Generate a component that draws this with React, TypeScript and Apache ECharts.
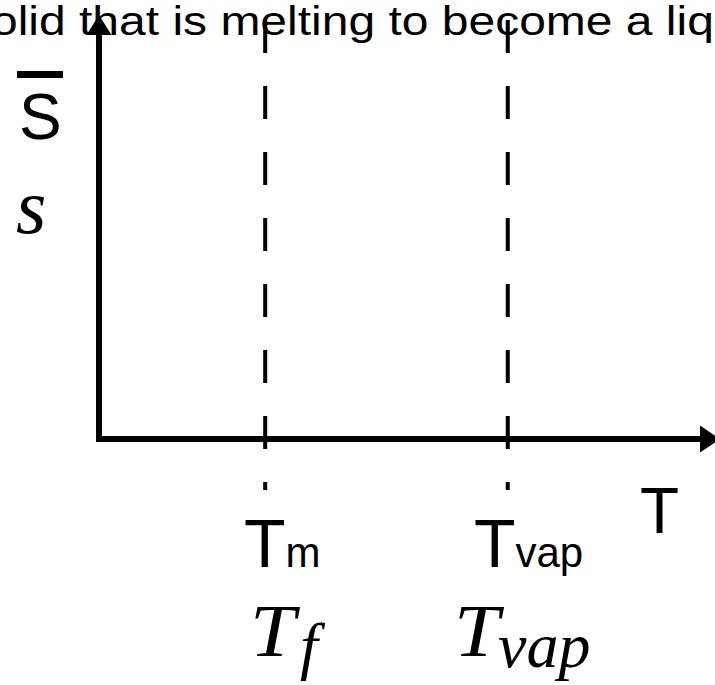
import React, { useEffect, useRef } from "react";
import * as echarts from "echarts";

// Phase-transition temperatures (arbitrary units along the T axis)
const transitionNames = ["Tm", "Tvap"];
const transitionTemps = [27.2, 66.9];
// vertical extent of the dashed guide lines (in S-axis units)
const guideTop = 101.2;
const guideBottom = -12.3;
const xRange = [0, 100];
const yRange = [0, 100];

const captionText = "solid that is melting to become a liquid";
const yLabelText = "S";
const yMathText = "s";
const xLabelText = "T";
const mathSubs = ["f", "vap"];

const SANS = '"Liberation Sans", Arial, sans-serif';
const SERIF = '"Liberation Serif", "Times New Roman", serif';

export default function App() {
  const ref = useRef<HTMLDivElement>(null);

  useEffect(() => {
    document.body.style.margin = "0";
    const chart = echarts.init(ref.current!, null, { renderer: "svg" });

    const txt = (text: string, x: number, y: number, font: string, extra: any = {}) => ({
      type: "text",
      x,
      y,
      silent: true,
      ...extra,
      style: { text, x: 0, y: 0, font, fill: "#000", align: "left", verticalAlign: "middle" },
    });

    const sansT = `68px ${SANS}`;
    const sansSub = `42px ${SANS}`;
    const mathT = `italic 74px ${SERIF}`;
    const mathSub = `italic 64px ${SERIF}`;

    chart.setOption({
      animation: false,
      backgroundColor: "#fff",
      grid: { left: 99, right: 5, top: 25, bottom: 246, outerBoundsMode: "none" },
      xAxis: {
        type: "value",
        min: xRange[0],
        max: xRange[1],
        axisLine: {
          show: true,
          onZero: false,
          symbol: ["none", "triangle"],
          symbolSize: [27, 20],
          lineStyle: { color: "#000", width: 6, cap: "square" },
        },
        axisTick: { show: false },
        axisLabel: { show: false },
        splitLine: { show: false },
      },
      yAxis: {
        type: "value",
        min: yRange[0],
        max: yRange[1],
        axisLine: {
          show: true,
          onZero: false,
          symbol: ["none", "triangle"],
          symbolSize: [25, 20],
          lineStyle: { color: "#000", width: 6, cap: "square" },
        },
        axisTick: { show: false },
        axisLabel: { show: false },
        splitLine: { show: false },
      },
      series: transitionTemps.map((t, i) => ({
        name: transitionNames[i],
        type: "line",
        clip: false,
        showSymbol: false,
        silent: true,
        data: [
          [t, guideTop],
          [t, guideBottom],
        ],
        lineStyle: { color: "#000", width: 4, type: [33, 33] },
      })),
      graphic: [
        txt(captionText, -33, 21, `40px ${SANS}`, { scaleX: 1.2 }),
        // S with overbar
        { type: "rect", silent: true, shape: { x: 17, y: 71, width: 46, height: 7 }, style: { fill: "#000" } },
        txt(yLabelText, 19, 117, `64px ${SANS}`),
        txt(yMathText, 16, 206, `italic 78px ${SERIF}`),
        txt(xLabelText, 640, 511, `64px ${SANS}`),
        // Tm
        txt("T", 244, 543, sansT),
        txt("m", 285.5, 552, sansSub),
        // Tvap
        txt("T", 474, 543, sansT),
        txt("vap", 515.5, 552, sansSub),
        // T_f
        txt("T", 250, 631, mathT, { scaleX: 1.1 }),
        txt(mathSubs[0], 300, 645, mathSub),
        // T_vap
        txt("T", 454, 631, mathT, { scaleX: 1.1 }),
        txt(mathSubs[1], 498, 645, mathSub),
      ],
    });

    return () => chart.dispose();
  }, []);

  return (
    <div
      ref={ref}
      style={{ position: "absolute", left: 0, top: 0, width: 715, height: 685, background: "#fff" }}
    />
  );
}
